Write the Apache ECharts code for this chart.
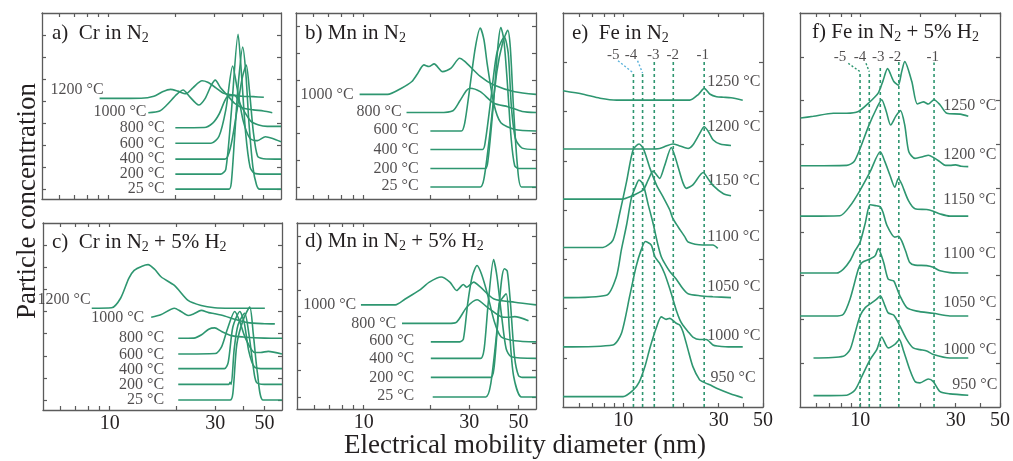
<!DOCTYPE html>
<html>
<head>
<meta charset="utf-8">
<script src="https://cdn.jsdelivr.net/npm/echarts@6/dist/echarts.min.js"></script>
<style>
  html, body { margin: 0; padding: 0; background: #ffffff; }
  #chart { width: 1013px; height: 461px; }
</style>
</head>
<body>
<div id="chart"></div>
<script>
// Size distributions (diameter in nm, stacked concentration in arbitrary units)

const xTickValues = [6, 7, 8, 9, 10, 20, 30, 40, 50];
const xTickLabels = [10, 30, 50];

// a) Cr in N2
const crN2Temps = ['25 °C', '200 °C', '400 °C', '600 °C', '800 °C', '1000 °C', '1200 °C'];
const crN2Curves = [
  [[20,0],[30,0],[35,0],[35.8,0.3],[37,2.3],[38.5,4.8],[40.3,6.45],[41.6,5.3],[43,3],[44.8,1],[46.5,0.2],[48,0],[60,0]],
  [[20,0.68],[32,0.68],[33.8,0.9],[35.8,3.5],[38.4,7.03],[39.8,5.2],[41.5,2.6],[43.5,1],[45.5,0.72],[50,0.68],[60,0.68]],
  [[20,1.36],[33.5,1.36],[35.5,1.9],[38,3.6],[40,5],[41.8,5.64],[43.2,4.5],[45,2.6],[47,1.5],[50,1.38],[60,1.36]],
  [[20,2.08],[29,2.08],[31.5,2.4],[33.8,3.6],[36.3,5.59],[38,4.6],[40.5,3.1],[43.5,2.3],[47,2.2],[51,2.38],[55,2.3],[60,2.15]],
  [[20,2.79],[27,2.8],[29.5,3.0],[31.5,3.4],[34.3,4.2],[37,4.25],[40,3.7],[43.7,3.1],[47.6,2.91],[52,2.85],[60,2.85]],
  [[15.1,3.47],[17,3.55],[18.3,3.82],[20.3,4.3],[21.7,4.5],[23.2,4.2],[25.5,3.82],[27.2,4.1],[29,4.7],[30.3,4.95],[32,4.6],[34.3,4.27],[37,3.9],[40,3.7],[45,3.6],[50,3.55],[54.8,3.47]],
  [[9.1,4.12],[14,4.13],[16,4.22],[17.5,4.42],[19,4.53],[20.5,4.45],[22.3,4.33],[24,4.6],[26.4,4.92],[28,4.85],[30.5,4.6],[33,4.35],[36.7,4.27],[40,4.22],[45,4.2],[50.2,4.17]]
];
const crN2TempPos = [[18,0.03],[18,0.68],[18,1.36],[18,2.05],[18,2.8],[14.9,3.52],[9.54,4.53]];

// b) Mn in N2
const mnN2Temps = ['25 °C', '200 °C', '400 °C', '600 °C', '800 °C', '1000 °C'];
const mnN2Curves = [
  [[20.1,0],[33.7,0],[35,0.3],[37,1.8],[40,4.3],[42.5,5.4],[44.8,5.85],[46,5.2],[47.5,3],[49.5,0.8],[51.6,0],[60,0]],
  [[20.1,0.69],[35.5,0.69],[36.5,1.0],[38.5,3],[40.5,5.3],[41.7,5.96],[43,5.5],[44.5,4],[46.4,1.8],[48.1,0.8],[50,0.69],[60,0.69]],
  [[20.1,1.4],[34.5,1.4],[35.5,1.7],[37.5,3.2],[40,5],[43.2,5.6],[45,5.0],[46.5,3],[48.5,1.8],[52,1.45],[60,1.4]],
  [[20.1,2.09],[27.7,2.09],[28.7,2.4],[30,3.5],[32,5.2],[33.7,5.94],[35,5.5],[36.2,4.6],[38.8,3.1],[41.7,2.4],[48.1,2.15],[60,2.09]],
  [[15.7,2.78],[22,2.78],[25.4,2.85],[27.2,3.2],[29.2,3.6],[30.3,3.69],[33.7,3.56],[38.8,3.13],[44.8,3.0],[52,2.82],[60,2.78]],
  [[9.66,3.46],[12.9,3.46],[14.9,3.69],[16.6,3.94],[17.5,4.2],[18.8,4.56],[19.8,4.5],[20.9,4.6],[22.8,4.31],[24.9,4.44],[27.2,4.81],[28.7,4.69],[33.7,4.13],[38.8,3.81],[48.1,3.56],[60,3.46]]
];
const mnN2TempPos = [[17.9,0.06],[17.9,0.69],[17.9,1.4],[17.9,2.15],[15.0,2.81],[9.12,3.46]];

// c) Cr in N2 + 5% H2
const crH2Temps = ['25 °C', '200 °C', '400 °C', '600 °C', '800 °C', '1000 °C', '1200 °C'];
const crH2Curves = [
  [[20.4,0],[35,0],[36,0.3],[37.5,2.5],[40,3.6],[42.9,4.2],[44.5,3],[46.5,1.2],[49.3,0],[60,0]],
  [[20.4,0.71],[34.5,0.71],[35,0.8],[35.4,0.71],[36.5,2.3],[38,3.4],[40.7,3.92],[42.5,3],[44.5,1.5],[46,0.8],[50,0.71],[60,0.71]],
  [[20.4,1.42],[33,1.42],[34.3,1.7],[36,3.3],[38.7,4.0],[40.5,3.5],[42.5,2.2],[45,1.5],[50,1.42],[60,1.42]],
  [[20.4,2.08],[30,2.1],[32,2.4],[34,3.2],[36.7,4.0],[38.5,3.6],[41,2.8],[45.2,2.15],[48,2.15],[52,2.2],[60,2.08]],
  [[20.4,2.79],[24,2.8],[26,2.95],[28,3.2],[29.8,3.26],[32,3.1],[35.4,2.91],[40,2.85],[50,2.8],[60,2.79]],
  [[15.4,3.74],[17,3.85],[19.6,4.15],[21,4.0],[22.6,3.82],[24,3.9],[25.9,4.05],[28,3.95],[29.8,3.9],[33,3.8],[36.7,3.65],[42,3.5],[50,3.45],[55.7,3.44]],
  [[8.3,4.15],[10.2,4.17],[11.2,4.6],[12.2,5.5],[12.9,5.86],[14.0,6.05],[14.9,6.12],[16,5.9],[17.1,5.56],[19.6,5.18],[22.6,4.5],[25.9,4.27],[29.8,4.17],[35,4.15],[50.2,4.15]]
];
const crH2TempPos = [[17.7,0.03],[17.7,0.71],[17.7,1.36],[17.7,2.05],[17.7,2.8],[14.4,3.71],[8.24,4.53]];

// d) Mn in N2 + 5% H2
const mnH2Temps = ['25 °C', '200 °C', '400 °C', '600 °C', '800 °C', '1000 °C'];
const mnH2Curves = [
  [[20.5,0],[35.6,0],[37.5,0.5],[40,2.5],[41,3.5],[44,3.85],[45.5,2.5],[47.5,0.8],[51.6,0],[60,0]],
  [[20.1,0.73],[37.5,0.73],[38.8,1.1],[40.5,3],[42,4.4],[43.2,4.79],[44.5,4.7],[46,3.5],[48,1.5],[50,0.8],[52,0.73],[60,0.73]],
  [[20.1,1.44],[33.7,1.44],[35,1.8],[36.5,3.5],[38.6,5.13],[40,4.5],[42,3],[44,1.8],[46.4,1.5],[60,1.44]],
  [[20.1,2.06],[27.2,2.06],[28.2,2.16],[29.5,3.5],[30.9,4.5],[32.5,4.91],[34,4.6],[36.2,3.85],[38.8,2.85],[41.7,2.25],[48.1,2.1],[60,2.06]],
  [[14.9,2.75],[24,2.75],[26.3,2.8],[29.2,3.35],[32.5,3.63],[36.2,3.35],[41.7,3.0],[44.8,2.98],[48.1,3.0],[55.5,2.85]],
  [[9.72,3.44],[13.9,3.44],[15.4,3.66],[17.8,3.98],[19.8,4.29],[22.4,4.48],[24.5,4.29],[26.3,3.98],[28.2,4.2],[29.2,4.1],[31.4,4.29],[33.7,4.1],[38.8,3.66],[48.1,3.54],[60,3.44]]
];
const mnH2TempPos = [[17.0,0.06],[17.0,0.73],[17.0,1.41],[17.0,2.1],[14.1,2.75],[9.31,3.44]];

// e) Fe in N2
const feN2Temps = ['950 °C', '1000 °C', '1050 °C', '1100 °C', '1150 °C', '1200 °C', '1250 °C'];
const feN2Curves = [
  [[5,0.21],[9.98,0.21],[11.2,0.34],[12.0,0.5],[12.9,0.85],[13.6,1.2],[14.7,1.63],[15.5,1.83],[16.4,1.78],[17.1,1.8],[17.7,1.76],[18.4,1.7],[19.2,1.66],[19.9,1.53],[21.1,1.16],[22.3,0.82],[24.1,0.55],[25.1,0.51],[26.0,0.48],[27.1,0.45],[29.3,0.38],[34.3,0.27],[39.6,0.19]],
  [[5,1.22],[8.89,1.26],[9.79,1.49],[10.8,2.27],[11.6,2.85],[12.3,3.19],[12.9,3.36],[13.8,3.29],[14.4,3.05],[15.2,2.92],[16.1,2.71],[17.1,2.4],[17.7,2.2],[18.4,1.97],[19.2,1.77],[19.9,1.66],[21.1,1.53],[22.3,1.42],[24.1,1.37],[26.0,1.37],[28.1,1.26],[29.5,1.24],[34.6,1.22],[39.6,1.22]],
  [[5,2.22],[8.24,2.27],[9.25,2.65],[9.79,3.19],[10.4,3.7],[11.0,4.25],[11.6,4.5],[12.0,4.61],[12.6,4.51],[13.3,4.13],[14.1,3.73],[14.9,3.3],[15.5,3.05],[16.1,2.92],[17.1,2.75],[18.4,2.6],[19.9,2.4],[21.1,2.3],[24.1,2.26],[28.1,2.24],[34.6,2.22]],
  [[5,3.24],[7.92,3.24],[8.89,3.39],[9.6,3.93],[10.4,4.58],[11.2,5.22],[12.0,5.34],[12.6,5.25],[13.6,4.85],[14.7,4.5],[15.8,4.27],[17.1,4.0],[17.7,3.83],[18.8,3.66],[20.3,3.46],[21.1,3.35],[25.1,3.29],[28.1,3.29],[29.7,3.22]],
  [[5,4.22],[9.79,4.22],[10.8,4.27],[12.6,4.41],[13.3,4.6],[14.1,4.79],[14.7,4.71],[15.2,4.64],[16.1,4.9],[17.4,5.27],[18.1,5.1],[18.8,4.88],[19.9,4.55],[20.7,4.44],[22.3,4.51],[25.1,4.76],[26.5,4.64],[28.1,4.5],[31.7,4.33],[34.6,4.29]],
  [[5,5.24],[13.6,5.24],[15.2,5.25],[16.4,5.3],[17.7,5.34],[19.2,5.3],[21.1,5.25],[22.3,5.32],[24.1,5.55],[25.4,5.69],[26.6,5.6],[28.2,5.42],[30.5,5.34],[34.6,5.31]],
  [[5,6.42],[6.31,6.35],[7.65,6.27],[9.27,6.23],[15,6.23],[21.5,6.23],[23.8,6.35],[25.4,6.47],[27.2,6.35],[29.3,6.3],[31.7,6.29],[34.6,6.28],[39.6,6.23]]
];
const feN2TempPos = [[27.2,0.59],[26.2,1.44],[26.2,2.44],[26.2,3.45],[26.2,4.59],[26.2,5.69],[26.2,6.6]];
const feN2Charges = ['-1', '-2', '-3', '-4', '-5'];
const feN2ChargeDiam = [25.4, 17.8, 14.3, 12.5, 11.25];
const feN2ChargeTop = [7.05, 7.05, 7.05, 6.78, 6.78];
const feN2ChargeLabelPos = [[24.97,7.15],[17.7,7.15],[14.15,7.15],[10.94,7.15],[8.92,7.15]];
const feN2LeaderStart = [null, null, null, [11.8,7.03], [9.42,7.03]];

// f) Fe in N2 + 5% H2
const feH2Temps = ['950 °C', '1000 °C', '1050 °C', '1100 °C', '1150 °C', '1200 °C', '1250 °C'];
const feH2Curves = [
  [[5.84,0.26],[8.57,0.27],[9.42,0.39],[10.2,0.7],[11.2,1.08],[12.1,1.31],[12.8,1.6],[13.8,1.35],[14.9,1.43],[15.7,1.54],[16.4,1.31],[17.7,0.85],[18.8,0.58],[19.9,0.55],[21.9,0.64],[23.2,0.58],[25.1,0.35],[28.1,0.3],[34.7,0.27]],
  [[5.84,1.12],[8.24,1.16],[8.89,1.31],[9.42,1.69],[9.98,2.08],[10.6,2.27],[11.4,2.38],[12.0,2.45],[12.6,2.54],[13.3,2.31],[13.8,2.15],[14.7,2.1],[15.8,1.85],[17.1,1.54],[18.4,1.35],[19.9,1.31],[21.5,1.28],[23.2,1.2],[28.1,1.12],[34.7,1.12]],
  [[5,2.08],[7.4,2.08],[8.24,2.12],[8.89,2.46],[9.79,3.15],[10.2,3.3],[11.2,3.38],[11.9,3.46],[12.3,3.62],[13.1,3.3],[13.8,2.92],[14.7,2.88],[15.2,2.73],[15.8,2.54],[17.1,2.27],[19.2,2.19],[23.2,2.14],[28.1,2.08],[34.7,2.08]],
  [[5,3.06],[7.63,3.06],[8.24,3.15],[8.89,3.34],[9.42,3.57],[9.98,3.76],[10.6,4.2],[11.2,4.62],[11.9,4.6],[12.6,4.57],[13.0,4.45],[13.6,4.15],[14.9,3.88],[15.5,3.9],[16.1,3.8],[16.9,3.55],[17.7,3.3],[18.8,3.24],[21.5,3.23],[23.2,3.19],[25.1,3.11],[28.1,3.07],[34.7,3.06]],
  [[5,4.36],[7.92,4.37],[8.89,4.59],[9.98,4.95],[11.2,5.37],[12.6,5.83],[13.3,5.6],[14.1,5.29],[14.9,5.02],[15.5,5.22],[16.1,5.1],[17.4,4.72],[18.8,4.53],[21.5,4.51],[23.2,4.47],[25.1,4.41],[28.1,4.36],[34.7,4.36]],
  [[5.03,5.51],[8.56,5.52],[9.3,5.6],[9.98,5.9],[11.0,6.41],[12.1,6.83],[12.8,7.02],[13.5,6.75],[14.2,6.44],[15.1,6.65],[15.9,6.77],[16.7,6.44],[17.5,5.83],[18.8,5.68],[20.7,5.72],[21.9,5.75],[23.4,5.69],[25.1,5.6],[26.7,5.52],[28.1,5.52],[30,5.53],[32,5.5],[34.7,5.49]],
  [[5.03,6.6],[5.83,6.64],[7.34,6.71],[8.56,6.71],[9.79,6.75],[11.0,6.94],[12.3,7.17],[13.0,7.45],[13.7,7.73],[14.7,7.44],[15.5,7.35],[16.1,7.65],[16.7,7.89],[18.1,7.44],[19.3,6.92],[20.7,6.97],[21.9,6.92],[23.4,7.02],[25.1,6.9],[27.1,6.71],[31.6,6.69],[34.7,6.64]]
];
const feH2TempPos = [[28.7,0.51],[25.9,1.31],[25.9,2.39],[25.9,3.49],[25.9,4.74],[25.9,5.75],[25.9,6.87]];
const feH2Charges = ['-1', '-2', '-3', '-4', '-5'];
const feH2ChargeDiam = [23.4, 15.6, 12.6, 11.1, 9.98];
const feH2ChargeTop = [7.87, 7.9, 7.79, 7.66, 7.66];
const feH2ChargeLabelPos = [[23.05,8.0],[14.93,8.0],[12.3,8.0],[9.98,8.0],[7.92,8.0]];
const feH2LeaderStart = [null, null, null, [10.69,7.85], [8.72,7.85]];

// ---- styling ----
const SERIF = '"Liberation Serif", "DejaVu Serif", serif';
const INK = '#231f20';
const GREEN = '#2e9670';
const SKY = '#5ab2da';
const FRAME = '#5b5b5b';

const panels = [
  { grid: { left: 42, top: 13, width: 239, height: 186 }, xMax: 60, yMin: -0.45, yMax: 8, yTicks: [0,1,2,3,4,5,6,7],
    showX: false, curves: crN2Curves, temps: crN2Temps, tempPos: crN2TempPos, tempSide: 'left',
    title: 'a)  Cr in N{s|2}', tx: 52, ty: 33 },
  { grid: { left: 296, top: 13, width: 240, height: 186 }, xMax: 60, yMin: -0.45, yMax: 6.5, yTicks: [0,1,2,3,4,5,6],
    showX: false, curves: mnN2Curves, temps: mnN2Temps, tempPos: mnN2TempPos, tempSide: 'left',
    title: 'b) Mn in N{s|2}', tx: 305, ty: 33 },
  { grid: { left: 43, top: 223, width: 239, height: 187 }, xMax: 60, yMin: -0.45, yMax: 8, yTicks: [0,1,2,3,4,5,6,7],
    showX: true, curves: crH2Curves, temps: crH2Temps, tempPos: crH2TempPos, tempSide: 'left',
    title: 'c)  Cr in N{s|2} + 5% H{s|2}', tx: 52, ty: 242 },
  { grid: { left: 297, top: 223, width: 239, height: 186 }, xMax: 60, yMin: -0.45, yMax: 6.5, yTicks: [0,1,2,3,4,5,6],
    showX: true, curves: mnH2Curves, temps: mnH2Temps, tempPos: mnH2TempPos, tempSide: 'left',
    title: 'd) Mn in N{s|2} + 5% H{s|2}', tx: 305, ty: 241 },
  { grid: { left: 563, top: 13, width: 200, height: 394 }, xMax: 50, yMin: 0, yMax: 8, yTicks: [1,2,3,4,5,6,7],
    showX: true, curves: feN2Curves, temps: feN2Temps, tempPos: feN2TempPos, tempSide: 'right',
    charges: feN2Charges, chargeDiam: feN2ChargeDiam, chargeTop: feN2ChargeTop,
    chargeLabelPos: feN2ChargeLabelPos, leaderStart: feN2LeaderStart, leaderColor: SKY,
    title: 'e)  Fe in N{s|2}', tx: 572, ty: 33 },
  { grid: { left: 800, top: 13, width: 200, height: 394 }, xMax: 50, yMin: 0, yMax: 9, yTicks: [1,2,3,4,5,6,7,8],
    showX: true, curves: feH2Curves, temps: feH2Temps, tempPos: feH2TempPos, tempSide: 'right',
    charges: feH2Charges, chargeDiam: feH2ChargeDiam, chargeTop: feH2ChargeTop,
    chargeLabelPos: feH2ChargeLabelPos, leaderStart: feH2LeaderStart, leaderColor: GREEN,
    title: 'f) Fe in N{s|2} + 5% H{s|2}', tx: 812, ty: 32 }
];

const grids = [], xAxes = [], yAxes = [], series = [], graphics = [];
const frameLine = { show: true, onZero: false, lineStyle: { color: FRAME, width: 1.3 } };
const innerTick = (vals) => ({ show: true, inside: true, length: 4, customValues: vals, lineStyle: { color: FRAME, width: 1.2 } });

panels.forEach((p, i) => {
  grids.push(Object.assign({ containLabel: false }, p.grid));
  const xi = xAxes.length, yi = yAxes.length;
  xAxes.push({
    type: 'log', gridIndex: i, min: 5, max: p.xMax, position: 'bottom',
    axisLine: frameLine, axisTick: innerTick(xTickValues),
    axisLabel: { show: p.showX, customValues: xTickLabels, margin: 4, fontFamily: SERIF, fontSize: 20, color: INK },
    splitLine: { show: false }
  });
  xAxes.push({
    type: 'log', gridIndex: i, min: 5, max: p.xMax, position: 'top',
    axisLine: frameLine, axisTick: innerTick(xTickValues),
    axisLabel: { show: false }, splitLine: { show: false }
  });
  ['left', 'right'].forEach(side => yAxes.push({
    type: 'value', gridIndex: i, min: p.yMin, max: p.yMax, position: side,
    axisLine: frameLine, axisTick: innerTick(p.yTicks),
    axisLabel: { show: false }, splitLine: { show: false }
  }));

  // charge-state guide lines
  if (p.charges) {
    p.chargeDiam.forEach((d, k) => {
      series.push({
        type: 'line', xAxisIndex: xi, yAxisIndex: yi, silent: true, symbol: 'none', z: 1,
        data: [[d, p.yMin], [d, p.chargeTop[k]]],
        lineStyle: { color: GREEN, width: 1.6, type: [3, 3] }
      });
      if (p.leaderStart[k]) {
        series.push({
          type: 'line', xAxisIndex: xi, yAxisIndex: yi, silent: true, symbol: 'none', z: 1,
          data: [p.leaderStart[k], [d, p.chargeTop[k]]],
          lineStyle: { color: p.leaderColor, width: 1.4, type: [2, 2] }
        });
      }
    });
    series.push({
      type: 'scatter', xAxisIndex: xi, yAxisIndex: yi, silent: true, symbolSize: 1,
      itemStyle: { color: 'rgba(0,0,0,0)' },
      data: p.chargeLabelPos.map((pos, k) => ({ name: p.charges[k], value: pos })),
      label: { show: true, position: 'inside', formatter: '{b}', fontFamily: SERIF, fontSize: 15, color: INK }
    });
  }

  p.curves.forEach((c, k) => series.push({
    type: 'line', name: p.temps[k], xAxisIndex: xi, yAxisIndex: yi, data: c,
    showSymbol: false, symbol: 'none', smooth: 0.25, silent: true, z: 3,
    lineStyle: { color: GREEN, width: 1.6 }
  }));

  series.push({
    type: 'scatter', xAxisIndex: xi, yAxisIndex: yi, silent: true, symbolSize: 1,
    itemStyle: { color: 'rgba(0,0,0,0)' },
    data: p.tempPos.map((pos, k) => ({ name: p.temps[k], value: pos })),
    label: { show: true, position: p.tempSide, distance: 0, formatter: '{b}', fontFamily: SERIF, fontSize: 16, color: INK }
  });

  graphics.push({
    type: 'text', x: p.tx, y: p.ty, silent: true,
    style: {
      text: p.title, fontFamily: SERIF, fontSize: 21, fill: INK, verticalAlign: 'middle',
      rich: { s: { fontFamily: SERIF, fontSize: 14, fill: INK, padding: [10, 0, 0, 0] } }
    }
  });
});

graphics.push({
  type: 'text', x: 28, y: 201, rotation: Math.PI / 2, silent: true,
  style: { text: 'Particle concentration', fontFamily: SERIF, fontSize: 27, fill: INK, align: 'center', verticalAlign: 'middle' }
});
graphics.push({
  type: 'text', x: 525, y: 446, silent: true,
  style: { text: 'Electrical mobility diameter (nm)', fontFamily: SERIF, fontSize: 27, fill: INK, align: 'center', verticalAlign: 'middle' }
});

const chart = echarts.init(document.getElementById('chart'), null, { renderer: 'canvas' });
chart.setOption({
  animation: false,
  backgroundColor: '#ffffff',
  grid: grids,
  xAxis: xAxes,
  yAxis: yAxes,
  series: series,
  graphic: graphics
});
</script>
</body>
</html>
